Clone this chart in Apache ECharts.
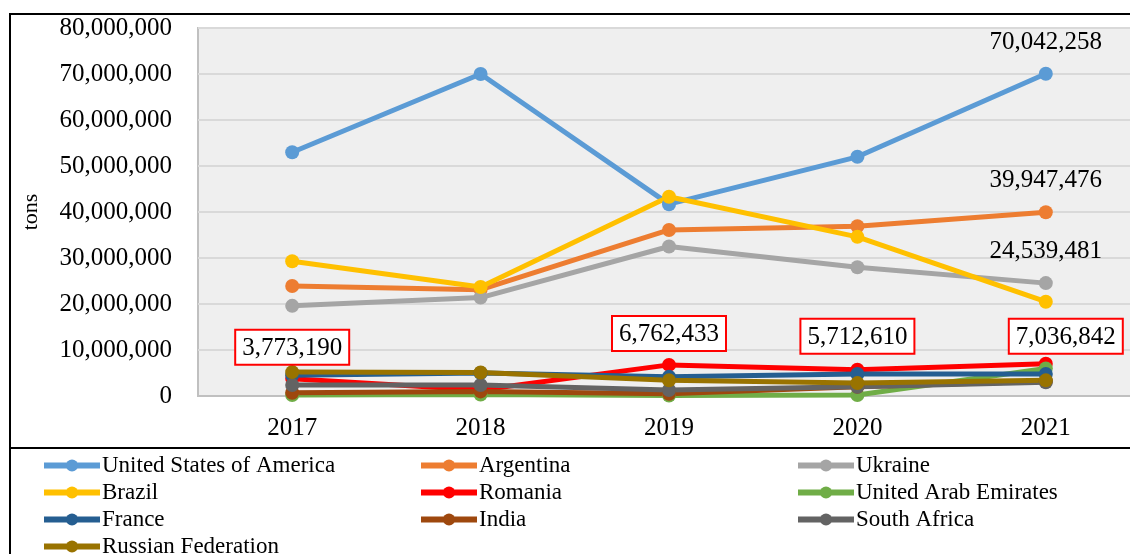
<!DOCTYPE html>
<html>
<head>
<meta charset="utf-8">
<script src="https://cdn.jsdelivr.net/npm/echarts@6/dist/echarts.min.js"></script>
<style>
  html, body { margin: 0; padding: 0; background: #fff; }
  #main { width: 1130px; height: 554px; }
</style>
</head>
<body>
<div id="main"></div>
<script>
// data (tons)
const years = ['2017', '2018', '2019', '2020', '2021'];
const countries = ['United States of America', 'Argentina', 'Ukraine', 'Brazil', 'Romania',
  'United Arab Emirates', 'France', 'India', 'South Africa', 'Russian Federation'];
const colors = ['#5b9bd5', '#ed7d31', '#a5a5a5', '#ffc000', '#ff0000',
  '#70ad47', '#255e91', '#9e480e', '#636363', '#997300'];

const usa = [53000000, 70000000, 41700000, 52000000, 70042258];
const argentina = [23900000, 23100000, 36100000, 36900000, 39947476];
const ukraine = [19600000, 21400000, 32500000, 28000000, 24539481];
const brazil = [29300000, 23700000, 43300000, 34600000, 20500000];
const romania = [3773190, 1300000, 6762433, 5712610, 7036842];
const uae = [200000, 300000, 100000, 200000, 6000000];
const france = [4500000, 5000000, 4200000, 4800000, 4800000];
const india = [700000, 1000000, 500000, 2000000, 3200000];
const southAfrica = [2400000, 2400000, 1300000, 2000000, 3000000];
const russia = [5200000, 5100000, 3400000, 2800000, 3400000];

const seriesValues = [usa, argentina, ukraine, brazil, romania, uae, france, india, southAfrica, russia];

const fmt = v => Math.round(v).toLocaleString('en-US');
const serif = 'Liberation Serif, Times New Roman, serif';

// which points carry a value label
const plainLabel = { show: true, position: 'top', distance: 12, color: '#000',
  fontFamily: serif, fontSize: 25, formatter: p => fmt(p.value) };
const boxLabel = { show: true, position: 'top', distance: 8, color: '#000',
  fontFamily: serif, fontSize: 25, backgroundColor: '#fff', borderColor: '#ff0000',
  borderWidth: 2, padding: [5, 6, 3, 6], formatter: p => fmt(p.value) };

function buildData(idx) {
  return seriesValues[idx].map((v, i) => {
    if (idx <= 2 && i === 4) return { value: v, label: plainLabel };
    if (idx === 4 && i !== 1) {
      let lbl = Object.assign({}, boxLabel);
      if (i === 4) { lbl.offset = [20, 4]; }
      if (i === 3) { lbl.distance = 10; }
      return { value: v, label: lbl };
    }
    return v;
  });
}

const series = countries.map((name, idx) => ({
  name: name,
  type: 'line',
  data: buildData(idx),
  color: colors[idx],
  symbol: 'circle',
  symbolSize: 14,
  lineStyle: { width: 5 },
  label: { show: false },
  emphasis: { disabled: true },
  animation: false
}));

function legendCol(left, names) {
  return {
    orient: 'vertical',
    left: left,
    top: 449,
    height: 140,
    data: names,
    itemWidth: 56,
    itemHeight: 15,
    itemGap: 4,
    lineStyle: { width: 6 },
    textStyle: { fontFamily: serif, fontSize: 23, color: '#000', padding: [0, 0, 0, -3] }
  };
}

const chart = echarts.init(document.getElementById('main'));
chart.setOption({
  backgroundColor: '#fff',
  animation: false,
  grid: {
    left: 198, right: -10, top: 28, bottom: 158,
    show: true, backgroundColor: '#efefef', borderColor: '#c0c0c0', borderWidth: 2,
    outerBoundsMode: 'none'
  },
  legend: [
    legendCol(36, ['United States of America', 'Brazil', 'France', 'Russian Federation']),
    legendCol(413, ['Argentina', 'Romania', 'India']),
    legendCol(790, ['Ukraine', 'United Arab Emirates', 'South Africa'])
  ],
  xAxis: {
    type: 'category',
    data: years,
    boundaryGap: true,
    axisLine: { lineStyle: { color: '#c0c0c0', width: 2 } },
    axisTick: { show: false },
    axisLabel: { color: '#000', fontFamily: serif, fontSize: 25, margin: 20 }
  },
  yAxis: {
    type: 'value',
    min: 0, max: 80000000, interval: 10000000,
    name: 'tons',
    nameLocation: 'middle',
    nameGap: 156,
    nameRotate: 90,
    nameTextStyle: { color: '#000', fontFamily: serif, fontSize: 22 },
    axisLine: { show: false },
    axisTick: { show: false },
    splitLine: { lineStyle: { color: '#d9d9d9', width: 2 } },
    axisLabel: { color: '#000', fontFamily: serif, fontSize: 25, margin: 26, formatter: v => fmt(v) }
  },
  graphic: [
    { type: 'line', shape: { x1: 9, y1: 14, x2: 1130, y2: 14 }, style: { stroke: '#000', lineWidth: 2 } },
    { type: 'line', shape: { x1: 10, y1: 13, x2: 10, y2: 554 }, style: { stroke: '#000', lineWidth: 2 } },
    { type: 'line', shape: { x1: 9, y1: 448, x2: 1130, y2: 448 }, style: { stroke: '#000', lineWidth: 2 } }
  ],
  series: series
});
</script>
</body>
</html>
